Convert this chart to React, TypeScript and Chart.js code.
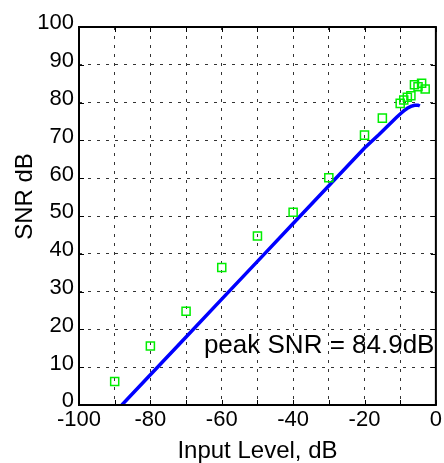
import React, { useEffect, useRef } from 'react';
import { Chart, registerables } from 'chart.js';

Chart.register(...registerables);

// Measured SNR (green squares)
const markerX = [-90, -80, -70, -60, -50, -40, -30, -20, -15, -10, -9, -8, -7, -6, -5, -4, -3];
const markerY = [6.2, 15.6, 24.8, 36.4, 44.7, 51.0, 60.1, 71.4, 75.9, 79.8, 80.7, 81.4, 81.8, 84.7, 84.2, 85.1, 83.6];

// Theoretical SNR curve (blue line)
const curveX = [-88, -80, -70, -60, -50, -40, -30, -20, -16, -13, -11, -10, -9, -8, -7, -6, -5, -4.5];
const curveY = [0, 8, 18, 28, 38, 48, 58, 68, 71.5, 74.3, 76.1, 77.0, 77.8, 78.5, 79.0, 79.3, 79.3, 79.1];

const xMin = -100;
const xMax = 0;
const xStep = 10;
const xLabelStep = 20;
const yMin = 0;
const yMax = 100;
const yStep = 10;

const xTitle = 'Input Level, dB';
const yTitle = 'SNR dB';
const annotationText = 'peak SNR = 84.9dB';
const annotationX = -65;
const annotationY = 13.8;

const FONT = "'Liberation Sans', Arial, Helvetica, sans-serif";

const framePlugin = {
  id: 'matlabFrame',
  afterDraw(chart: any) {
    const { ctx, chartArea: a, scales } = chart;
    const xs = scales.x;
    const ys = scales.y;
    ctx.save();
    // inward tick marks on all four sides
    ctx.strokeStyle = '#000';
    ctx.lineWidth = 1;
    ctx.beginPath();
    xs.ticks.forEach((t: any) => {
      const px = Math.round(xs.getPixelForValue(t.value)) + 0.5;
      ctx.moveTo(px, a.bottom);
      ctx.lineTo(px, a.bottom - 5);
      ctx.moveTo(px, a.top);
      ctx.lineTo(px, a.top + 5);
    });
    ys.ticks.forEach((t: any) => {
      const py = Math.round(ys.getPixelForValue(t.value)) + 0.5;
      ctx.moveTo(a.left, py);
      ctx.lineTo(a.left + 5, py);
      ctx.moveTo(a.right, py);
      ctx.lineTo(a.right - 5, py);
    });
    ctx.stroke();
    // box
    ctx.lineWidth = 2;
    ctx.strokeRect(a.left, a.top, a.right - a.left, a.bottom - a.top);
    // annotation
    ctx.fillStyle = '#000';
    ctx.font = `26px ${FONT}`;
    ctx.textAlign = 'left';
    ctx.textBaseline = 'alphabetic';
    ctx.fillText(annotationText, xs.getPixelForValue(annotationX), ys.getPixelForValue(annotationY));
    // y axis title
    ctx.translate(32, 196.5);
    ctx.rotate(-Math.PI / 2);
    ctx.textAlign = 'center';
    ctx.font = `24px ${FONT}`;
    ctx.fillText(yTitle, 0, 0);
    ctx.restore();
  },
};

export default function App() {
  const canvasRef = useRef<HTMLCanvasElement | null>(null);

  useEffect(() => {
    const canvas = canvasRef.current;
    if (!canvas) return;
    const markers = markerX.map((x, i) => ({ x, y: markerY[i] }));
    const curve = curveX.map((x, i) => ({ x, y: curveY[i] }));

    const chart = new Chart(canvas, {
      type: 'scatter',
      data: {
        datasets: [
          {
            label: 'measured',
            data: markers,
            showLine: false,
            pointStyle: 'rect',
            pointRadius: 5.7,
            pointBorderWidth: 1.5,
            pointBorderColor: '#00ee00',
            pointBackgroundColor: 'rgba(0,0,0,0)',
            borderColor: '#00ee00',
            backgroundColor: 'rgba(0,0,0,0)',
          },
          {
            label: 'theory',
            data: curve,
            showLine: true,
            pointRadius: 0,
            borderColor: '#0000ff',
            borderWidth: 3.5,
            tension: 0,
            fill: false,
          },
        ],
      },
      options: {
        responsive: false,
        animation: false,
        events: [],
        layout: { padding: { left: 0, right: 7, top: 27, bottom: 0 } },
        plugins: {
          legend: { display: false },
          tooltip: { enabled: false },
        },
        scales: {
          x: {
            type: 'linear',
            min: xMin,
            max: xMax,
            afterFit: (s: any) => {
              s.height = 58;
            },
            ticks: {
              stepSize: xStep,
              autoSkip: false,
              maxRotation: 0,
              minRotation: 0,
              padding: 2,
              color: '#000',
              font: { family: FONT, size: 22 },
              callback: (v: any) => (Number(v) % xLabelStep === 0 ? String(v) : ''),
            },
            grid: {
              color: 'rgba(0,0,0,0.8)',
              lineWidth: 1,
              drawTicks: false,
            },
            border: { display: false, dash: [3, 6] },
            title: {
              display: true,
              text: xTitle,
              color: '#000',
              font: { family: FONT, size: 24, lineHeight: 1 },
              padding: { top: 0, bottom: 0 },
            },
          },
          y: {
            type: 'linear',
            min: yMin,
            max: yMax,
            afterFit: (s: any) => {
              s.width = 79;
            },
            ticks: {
              stepSize: yStep,
              autoSkip: false,
              padding: 5,
              color: '#000',
              font: { family: FONT, size: 22, lineHeight: '7.5px' },
              callback: (v: any) => [String(v), ''],
            },
            grid: {
              color: 'rgba(0,0,0,0.8)',
              lineWidth: 1,
              drawTicks: false,
            },
            border: { display: false, dash: [3, 6] },
          },
        },
      },
      plugins: [framePlugin],
    } as any);

    return () => {
      chart.destroy();
    };
  }, []);

  return (
    <div style={{ position: 'fixed', left: 0, top: 0, width: 444, height: 463, background: '#fff' }}>
      <canvas ref={canvasRef} width={444} height={463} style={{ display: 'block' }} />
    </div>
  );
}
